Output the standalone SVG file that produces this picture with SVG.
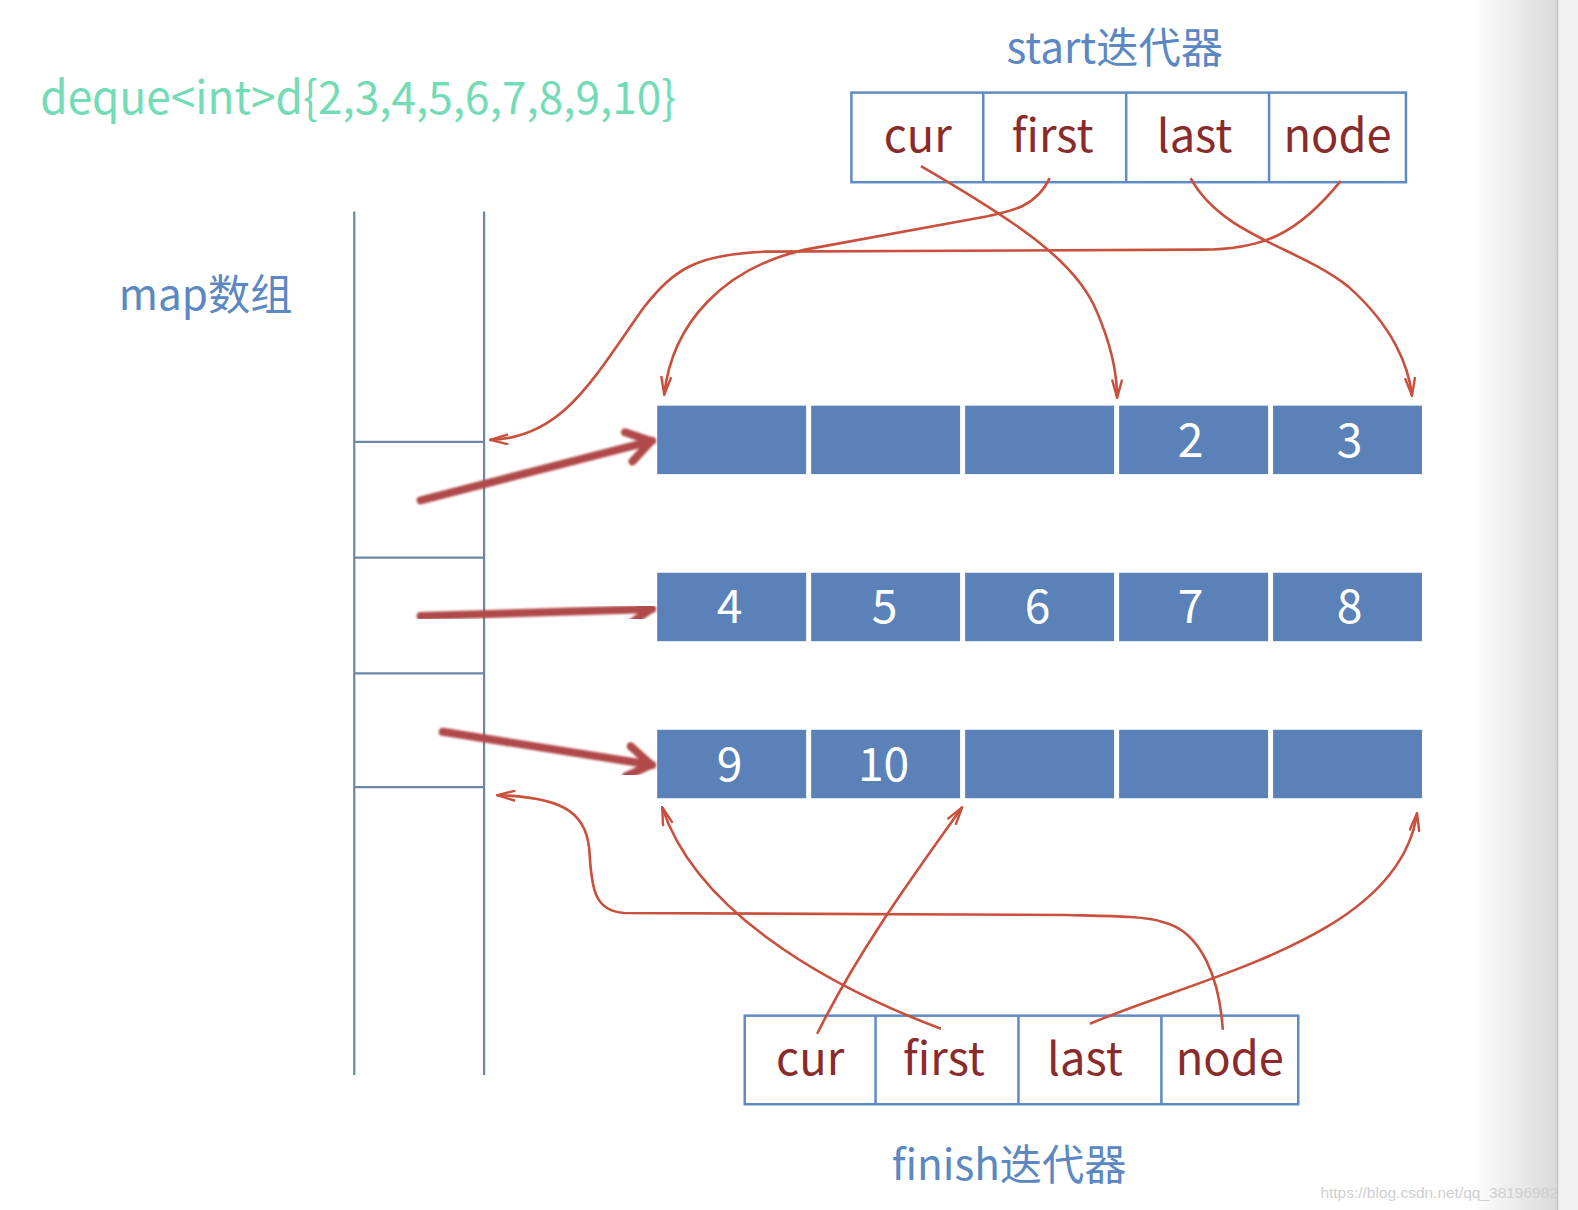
<svg xmlns="http://www.w3.org/2000/svg" width="1578" height="1210" viewBox="0 0 1578 1210">
  <style>
    .t { font-family: "Noto Sans CJK SC", "Noto Sans", sans-serif; }
    .title { fill: #74dbb7; font-size: 45px; }
    .lbl { fill: #5b87c3; font-size: 42px; }
    .fld { fill: #8a2b2b; font-size: 45px; text-anchor: middle; }
    .num { fill: #ffffff; font-size: 46px; text-anchor: middle; }
    .box { fill: #ffffff; stroke: #5f8ac4; stroke-width: 2.5; }
    .div { stroke: #5f8ac4; stroke-width: 2.5; }
    .map { stroke: #6c86a8; stroke-width: 2.2; fill: none; }
    .cell { fill: #5a81b8; }
    .thin { fill: none; stroke: #c9503d; stroke-width: 2.6; marker-end: url(#tip); }
    .thick { fill: none; stroke: #b0494a; stroke-width: 8; stroke-linecap: round; marker-end: url(#bigtip); filter: url(#soft); }
  </style>
  <defs>
    <marker id="tip" viewBox="0 0 20 12" refX="19" refY="6" markerWidth="20" markerHeight="12" markerUnits="userSpaceOnUse" orient="auto">
      <path d="M1,1 L19,6 L1,11" fill="none" stroke="#c9503d" stroke-width="2.4" stroke-linejoin="miter"/>
    </marker>
    <marker id="bigtip" viewBox="0 0 30 38" refX="28" refY="19" markerWidth="30" markerHeight="38" markerUnits="userSpaceOnUse" orient="auto">
      <path d="M4,4 L27,19 L4,34" fill="none" stroke="#b0494a" stroke-width="8" stroke-linecap="round" stroke-linejoin="round"/>
    </marker>
    <filter id="soft" x="-10%" y="-30%" width="120%" height="160%">
      <feGaussianBlur stdDeviation="1.3"/>
    </filter>
    <linearGradient id="edge" x1="0" y1="0" x2="1" y2="0">
      <stop offset="0" stop-color="#ffffff"/>
      <stop offset="1" stop-color="#d9d9d9"/>
    </linearGradient>
  </defs>

  <rect width="1578" height="1210" fill="#ffffff"/>
  <!-- window edge shading on the right -->
  <rect x="1470" y="0" width="88" height="1210" fill="url(#edge)"/>
  <rect x="1557" y="0" width="21" height="1210" fill="#f1f1f1"/>
  <line x1="1557.5" y1="0" x2="1557.5" y2="1210" stroke="#c4c4c4" stroke-width="1.5"/>

  <g transform="scale(1.0064,1.0066)">
    <g id="title">
      <text class="t title" x="40" y="113" textLength="632" lengthAdjust="spacingAndGlyphs">deque&lt;int&gt;d{2,3,4,5,6,7,8,9,10}</text>
    </g>

    <g id="map-label">
      <text class="t lbl" x="118" y="308">map数组</text>
    </g>

    <!-- map array: two rails with slot separators -->
    <g id="map">
      <line class="map" x1="352" y1="210" x2="352" y2="1068"/>
      <line class="map" x1="481" y1="210" x2="481" y2="1068"/>
      <line class="map" x1="352" y1="439" x2="481" y2="439"/>
      <line class="map" x1="352" y1="554" x2="481" y2="554"/>
      <line class="map" x1="352" y1="669" x2="481" y2="669"/>
      <line class="map" x1="352" y1="782" x2="481" y2="782"/>
    </g>

    <!-- buffer 1 -->
    <g id="buffer1">
      <rect class="cell" x="653" y="403" width="148" height="68"/>
      <rect class="cell" x="806" y="403" width="148" height="68"/>
      <rect class="cell" x="959" y="403" width="148" height="68"/>
      <rect class="cell" x="1112" y="403" width="148" height="68"/>
      <rect class="cell" x="1265" y="403" width="148" height="68"/>
      <text class="t num" x="1183" y="454">2</text>
      <text class="t num" x="1341" y="454">3</text>
    </g>

    <!-- buffer 2 -->
    <g id="buffer2">
      <rect class="cell" x="653" y="569" width="148" height="68"/>
      <rect class="cell" x="806" y="569" width="148" height="68"/>
      <rect class="cell" x="959" y="569" width="148" height="68"/>
      <rect class="cell" x="1112" y="569" width="148" height="68"/>
      <rect class="cell" x="1265" y="569" width="148" height="68"/>
      <text class="t num" x="725" y="619">4</text>
      <text class="t num" x="879" y="619">5</text>
      <text class="t num" x="1031" y="619">6</text>
      <text class="t num" x="1183" y="619">7</text>
      <text class="t num" x="1341" y="619">8</text>
    </g>

    <!-- buffer 3 -->
    <g id="buffer3">
      <rect class="cell" x="653" y="725" width="148" height="68"/>
      <rect class="cell" x="806" y="725" width="148" height="68"/>
      <rect class="cell" x="959" y="725" width="148" height="68"/>
      <rect class="cell" x="1112" y="725" width="148" height="68"/>
      <rect class="cell" x="1265" y="725" width="148" height="68"/>
      <text class="t num" x="725" y="776">9</text>
      <text class="t num" x="878" y="776">10</text>
    </g>

    <!-- start iterator -->
    <g id="start">
      <text class="t lbl" x="1000" y="63">start迭代器</text>
      <rect class="box" x="846" y="92" width="551" height="89"/>
      <line class="div" x1="977" y1="92" x2="977" y2="181"/>
      <line class="div" x1="1119" y1="92" x2="1119" y2="181"/>
      <line class="div" x1="1261" y1="92" x2="1261" y2="181"/>
      <text class="t fld" x="912" y="151">cur</text>
      <text class="t fld" x="1046" y="151">first</text>
      <text class="t fld" x="1187" y="151">last</text>
      <text class="t fld" x="1329" y="151">node</text>
    </g>

    <!-- finish iterator -->
    <g id="finish">
      <rect class="box" x="740" y="1009" width="550" height="88"/>
      <line class="div" x1="870" y1="1009" x2="870" y2="1097"/>
      <line class="div" x1="1012" y1="1009" x2="1012" y2="1097"/>
      <line class="div" x1="1154" y1="1009" x2="1154" y2="1097"/>
      <text class="t fld" x="805" y="1068">cur</text>
      <text class="t fld" x="938" y="1068">first</text>
      <text class="t fld" x="1078" y="1068">last</text>
      <text class="t fld" x="1222" y="1068">node</text>
      <text class="t lbl" x="886" y="1172">finish迭代器</text>
    </g>

    <g id="connectors">
      <!-- map slots to buffers -->
      <path class="thick" d="M418,497 L648,438"/>
      <path class="thick" d="M418,612 L648,605"/>
      <path class="thick" d="M440,727 L648,760"/>

      <!-- start iterator fields -->
      <path class="thin" d="M915,165 C1010,220 1070,260 1090,310 C1105,345 1110,370 1110,395"/>
      <path class="thin" d="M1043,177 C1030,205 1005,210 980,215 L800,248 C720,266 668,320 660,392"/>
      <path class="thin" d="M1183,177 C1215,235 1290,245 1340,285 C1385,325 1400,365 1403,393"/>
      <path class="thin" d="M1332,180 C1290,232 1255,248 1195,248 L760,250 C690,253 670,268 640,305 C590,375 560,435 487,437"/>

      <!-- finish iterator fields -->
      <path class="thin" d="M812,1027 C850,950 900,880 956,802"/>
      <path class="thin" d="M935,1022 C810,975 690,900 658,802"/>
      <path class="thin" d="M1083,1017 C1200,968 1390,930 1408,808"/>
      <path class="thin" d="M1215,1023 C1212,975 1195,925 1155,916 C1140,910 1100,910 1060,909 L620,907 C592,905 588,885 586,850 C584,810 565,792 494,790"/>
    </g>

    <text x="1312" y="1190" font-size="15" fill="#cfcfcf" font-family="Liberation Sans, sans-serif" textLength="236" lengthAdjust="spacingAndGlyphs">https://blog.csdn.net/qq_38196982</text>
  </g>
</svg>
